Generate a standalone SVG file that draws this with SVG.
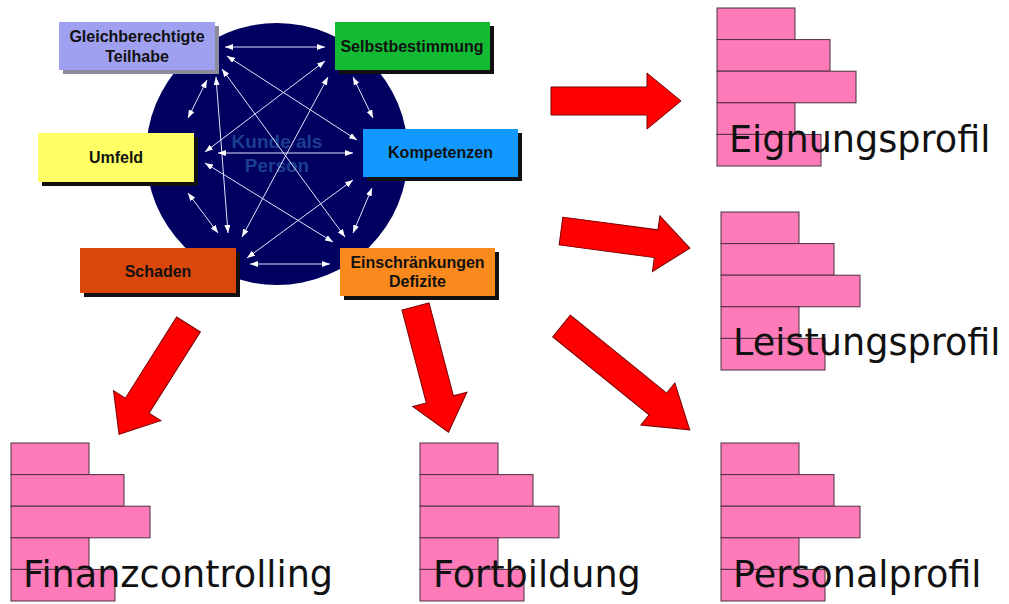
<svg xmlns="http://www.w3.org/2000/svg" width="1009" height="604" viewBox="0 0 1009 604">
  <style>
    .lbl { font-family: "Liberation Sans", Arial, sans-serif; font-weight: bold; font-size: 16px; fill: #111; text-anchor: middle; }
    .core { font-family: "Liberation Sans", Arial, sans-serif; font-weight: bold; font-size: 19px; fill: #1b3f8e; text-anchor: middle; }
    .shadow { fill: #111; }
    .link { stroke: #e4e4ff; stroke-width: 1; fill: none; marker-start: url(#tip); marker-end: url(#tip); }
    .big { fill: #ff0000; stroke: #7a0000; stroke-width: 1; }
    .bar { fill: #ff7ab8; stroke: #4a3040; stroke-width: 1; }
    .title { font-family: "DejaVu Sans", Verdana, sans-serif; font-size: 36.6px; fill: #111; }
  </style>
  <defs>
    <marker id="tip" viewBox="0 0 8 6" refX="8" refY="3" markerWidth="8" markerHeight="6" markerUnits="userSpaceOnUse" orient="auto-start-reverse">
      <path d="M0,0 L8,3 L0,6 Z" fill="#ffffff"/>
    </marker>
    <path id="blockArrow" d="M0,-14 L96,-14 L96,-28 L130,0 L96,28 L96,14 L0,14 Z"/>
    <path id="blockArrowLong" d="M0,-14 L124,-14 L124,-27 L165,0 L124,27 L124,14 L0,14 Z"/>
    <!-- one profile: five stacked bars -->
    <g id="bars">
      <rect class="bar" x="0" y="0" width="78" height="31.6"/>
      <rect class="bar" x="0" y="31.6" width="113" height="31.6"/>
      <rect class="bar" x="0" y="63.2" width="139" height="31.6"/>
      <rect class="bar" x="0" y="94.8" width="78" height="31.6"/>
      <rect class="bar" x="0" y="126.4" width="104" height="31.6"/>
    </g>
  </defs>

  <rect width="1009" height="604" fill="#ffffff"/>

  <!-- central circle -->
  <g id="kunde">
    <circle cx="277" cy="154" r="131" fill="#000060"/>
    <text class="core" x="277" y="148">Kunde als</text>
    <text class="core" x="277" y="172">Person</text>
  </g>

  <!-- relations between the aspects -->
  <g id="connectors">
    <line class="link" x1="225" y1="47" x2="325" y2="47"/>
    <line class="link" x1="227" y1="56" x2="357" y2="140"/>
    <line class="link" x1="325" y1="61" x2="205" y2="152"/>
    <line class="link" x1="222" y1="69" x2="345" y2="237"/>
    <line class="link" x1="216" y1="77" x2="228" y2="233"/>
    <line class="link" x1="207" y1="80" x2="188" y2="118"/>
    <line class="link" x1="328" y1="77" x2="242" y2="237"/>
    <line class="link" x1="353" y1="77" x2="373" y2="118"/>
    <line class="link" x1="218" y1="153" x2="353" y2="153"/>
    <line class="link" x1="205" y1="163" x2="333" y2="242"/>
    <line class="link" x1="188" y1="193" x2="218" y2="233"/>
    <line class="link" x1="353" y1="180" x2="247" y2="258"/>
    <line class="link" x1="372" y1="188" x2="353" y2="233"/>
    <line class="link" x1="250" y1="264" x2="330" y2="264"/>
  </g>

  <g id="teilhabe">
    <rect x="63" y="26" width="156" height="48" fill="#8c8c9c"/>
    <rect x="59" y="22" width="156" height="48" fill="#a0a0f0"/>
    <text class="lbl" x="137" y="42">Gleichberechtigte</text>
    <text class="lbl" x="137" y="62">Teilhabe</text>
  </g>
  <g id="selbstbestimmung">
    <rect class="shadow" x="339" y="26" width="155" height="48"/>
    <rect x="335" y="22" width="155" height="48" fill="#13bb35"/>
    <text class="lbl" x="412" y="52">Selbstbestimmung</text>
  </g>
  <g id="umfeld">
    <rect class="shadow" x="42" y="137" width="156" height="49"/>
    <rect x="38" y="133" width="156" height="49" fill="#ffff66"/>
    <text class="lbl" x="116" y="163">Umfeld</text>
  </g>
  <g id="kompetenzen">
    <rect class="shadow" x="367" y="133" width="155" height="48"/>
    <rect x="363" y="129" width="155" height="48" fill="#1199ff"/>
    <text class="lbl" x="440.5" y="158">Kompetenzen</text>
  </g>
  <g id="schaden">
    <rect class="shadow" x="84" y="252" width="156" height="45"/>
    <rect x="80" y="248" width="156" height="45" fill="#d9470a"/>
    <text class="lbl" x="158" y="277">Schaden</text>
  </g>
  <g id="einschraenkungen">
    <rect class="shadow" x="344" y="252" width="155" height="48"/>
    <rect x="340" y="248" width="155" height="48" fill="#fb8a1e"/>
    <text class="lbl" x="417.5" y="268">Einschränkungen</text>
    <text class="lbl" x="417.5" y="287">Defizite</text>
  </g>

  <!-- block arrows towards the profiles -->
  <g id="block-arrows">
    <use href="#blockArrow" class="big" transform="translate(551,101)"/>
    <use href="#blockArrow" class="big" transform="translate(561,231) rotate(7.6)"/>
    <use href="#blockArrowLong" class="big" transform="translate(561.5,326) rotate(39)"/>
    <use href="#blockArrow" class="big" transform="translate(415.5,306.5) rotate(75.3)"/>
    <use href="#blockArrow" class="big" transform="translate(188.5,324.5) rotate(122.3)"/>
  </g>

  <g id="eignungsprofil">
    <use href="#bars" transform="translate(717,8)"/>
    <text class="title" x="729" y="152">Eignungsprofil</text>
  </g>
  <g id="leistungsprofil">
    <use href="#bars" transform="translate(721,212)"/>
    <text class="title" x="733" y="355">Leistungsprofil</text>
  </g>
  <g id="finanzcontrolling">
    <use href="#bars" transform="translate(11,443)"/>
    <text class="title" x="23" y="587">Finanzcontrolling</text>
  </g>
  <g id="fortbildung">
    <use href="#bars" transform="translate(420,443)"/>
    <text class="title" x="433" y="587">Fortbildung</text>
  </g>
  <g id="personalprofil">
    <use href="#bars" transform="translate(721,443)"/>
    <text class="title" x="733" y="587">Personalprofil</text>
  </g>
</svg>
